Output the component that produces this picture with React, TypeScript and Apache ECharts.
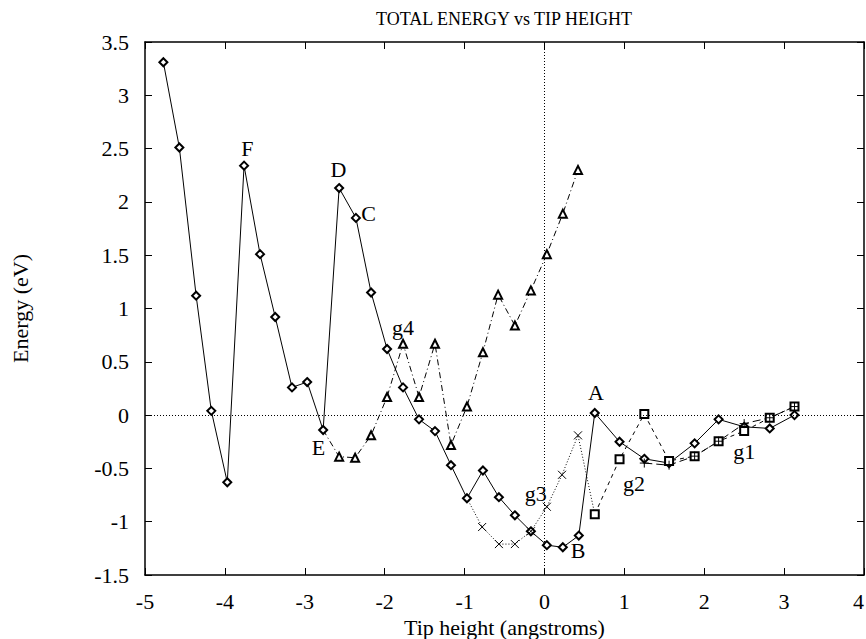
import React, { useEffect, useRef } from "react";
import * as echarts from "echarts";

const titleText = "TOTAL ENERGY vs TIP HEIGHT";
const xName = "Tip height (angstroms)";
const yName = "Energy (eV)";

// g0 : diamonds, solid
const xG0 = [-4.77, -4.57, -4.36, -4.17, -3.97, -3.76, -3.56, -3.37, -3.16, -2.97, -2.77, -2.57, -2.36, -2.17, -1.97, -1.77, -1.57, -1.37, -1.17, -0.97, -0.77, -0.57, -0.37, -0.17, 0.03, 0.23, 0.43, 0.63, 0.94, 1.25, 1.56, 1.88, 2.18, 2.5, 2.82, 3.13];
const yG0 = [3.31, 2.51, 1.12, 0.04, -0.63, 2.34, 1.51, 0.92, 0.26, 0.31, -0.14, 2.13, 1.85, 1.15, 0.62, 0.26, -0.04, -0.15, -0.47, -0.78, -0.52, -0.77, -0.94, -1.09, -1.22, -1.24, -1.13, 0.02, -0.25, -0.41, -0.45, -0.265, -0.04, -0.11, -0.125, 0.0];

// g4 : triangles, dash-dot
const xG4 = [-2.77, -2.57, -2.37, -2.17, -1.97, -1.77, -1.57, -1.37, -1.17, -0.97, -0.77, -0.58, -0.37, -0.17, 0.03, 0.23, 0.42];
const yG4 = [-0.14, -0.39, -0.4, -0.19, 0.17, 0.67, 0.17, 0.67, -0.28, 0.08, 0.59, 1.13, 0.84, 1.17, 1.51, 1.89, 2.3];

// g3 : crosses, dotted
const xG3 = [-0.97, -0.78, -0.57, -0.37, -0.17, 0.03, 0.22, 0.42, 0.63];
const yG3 = [-0.78, -1.05, -1.21, -1.21, -1.09, -0.86, -0.56, -0.19, -0.93];

// g2 : squares, dashed
const xG2 = [0.63, 0.94, 1.25, 1.56, 1.88, 2.18, 2.5, 2.82, 3.13];
const yG2 = [-0.93, -0.415, 0.01, -0.43, -0.385, -0.245, -0.15, -0.025, 0.08];

// g1 : plus, long dashed
const xG1 = [1.25, 1.56, 1.88, 2.18, 2.5, 2.82, 3.13];
const yG1 = [-0.45, -0.47, -0.385, -0.245, -0.08, -0.025, 0.08];

// annotation labels
const noteText = ["F", "D", "C", "E", "g4", "A", "B", "g3", "g2", "g1"];
const noteX = [-3.72, -2.58, -2.2, -2.83, -1.77, 0.645, 0.42, -0.11, 1.12, 2.5];
const noteY = [2.5, 2.3, 1.89, -0.3, 0.82, 0.21, -1.27, -0.74, -0.64, -0.34];

const xTicks = { min: -5, max: 4, interval: 1 };
const yTicks = { min: -1.5, max: 3.5, interval: 0.5 };

const FONT = "'Liberation Serif', 'Times New Roman', serif";
const CROSS = "path://M0,0L10,10M10,0L0,10";
const PLUS = "path://M5,0L5,10M0,5L10,5";

function pairs(xs: number[], ys: number[]) {
  return xs.map((x, i) => [x, ys[i]]);
}

export default function App() {
  const ref = useRef<HTMLDivElement>(null);
  useEffect(() => {
    document.body.style.margin = "0";
    document.body.style.overflow = "hidden";
    document.documentElement.style.overflow = "hidden";
    if (!ref.current) return;
    const chart = echarts.init(ref.current, undefined, { renderer: "svg" });
    const axisLine = { show: true, onZero: false, lineStyle: { color: "#000", width: 1.5 } };
    const tick = { show: true, inside: true, length: 7, lineStyle: { color: "#000", width: 1 } };
    const lineSeries = (
      name: string,
      data: number[][],
      symbol: string,
      size: number,
      dash: any,
      hideFirst = false
    ) => ({
      name,
      type: "line",
      data: data.map((d, i) =>
        hideFirst && i === 0 ? { value: d, symbol: "none" } : { value: d }
      ),
      symbol,
      symbolSize: size,
      showAllSymbol: true,
      lineStyle: { color: "#000", width: 1, type: dash },
      itemStyle: { color: "#000", borderColor: "#000", borderWidth: 1 },
      z: 3,
    });
    chart.setOption({
      animation: false,
      backgroundColor: "#fff",
      title: {
        text: titleText,
        left: 499,
        top: 5,
        textAlign: "center",
        textStyle: { fontFamily: FONT, fontSize: 18, fontWeight: "normal", color: "#000" },
      },
      grid: {
        left: 145,
        right: 2,
        top: 42,
        bottom: 64,
        containLabel: false,
        outerBoundsMode: "none",
      },
      xAxis: [
        {
          type: "value",
          ...xTicks,
          position: "bottom",
          name: xName,
          nameLocation: "middle",
          nameGap: 32,
          nameTextStyle: { fontFamily: FONT, fontSize: 22, color: "#000" },
          axisLine,
          axisTick: tick,
          splitLine: { show: false },
          axisLabel: {
            fontFamily: FONT,
            fontSize: 22,
            color: "#000",
            margin: 15,
            alignMaxLabel: "right",
          },
        },
        {
          type: "value",
          ...xTicks,
          position: "top",
          axisLine,
          axisTick: tick,
          splitLine: { show: false },
          axisLabel: { show: false },
        },
      ],
      yAxis: [
        {
          type: "value",
          ...yTicks,
          position: "left",
          name: yName,
          nameLocation: "middle",
          nameGap: 114,
          nameRotate: 90,
          nameTextStyle: { fontFamily: FONT, fontSize: 22, color: "#000" },
          axisLine,
          axisTick: tick,
          splitLine: { show: false },
          axisLabel: { fontFamily: FONT, fontSize: 22, color: "#000", margin: 16 },
        },
        {
          type: "value",
          ...yTicks,
          position: "right",
          axisLine,
          axisTick: tick,
          splitLine: { show: false },
          axisLabel: { show: false },
        },
      ],
      series: [
        {
          type: "line",
          data: [],
          silent: true,
          markLine: {
            silent: true,
            symbol: "none",
            label: { show: false },
            lineStyle: { color: "#000", width: 1, type: [1, 2] },
            data: [{ xAxis: 0 }, { yAxis: 0 }],
          },
          z: 1,
        },
        lineSeries("g0", pairs(xG0, yG0), "emptyDiamond", 8, "solid"),
        lineSeries("g4", pairs(xG4, yG4), "emptyTriangle", 8, [6, 3, 1, 3], true),
        lineSeries("g3", pairs(xG3, yG3), CROSS, 8, [1, 2], true),
        lineSeries("g2", pairs(xG2, yG2), "emptyRect", 8, [4, 4]),
        lineSeries("g1", pairs(xG1, yG1), PLUS, 9, [8, 4]),
        {
          type: "scatter",
          silent: true,
          symbolSize: 0,
          itemStyle: { color: "#000", opacity: 1 },
          data: noteText.map((t, i) => ({ value: [noteX[i], noteY[i]], name: t })),
          label: {
            show: true,
            position: "inside",
            formatter: (p: any) => p.name,
            fontFamily: FONT,
            fontSize: 22,
            color: "#000",
            opacity: 1,
            textBorderWidth: 0,
          },
          z: 5,
        },
      ],
    });
    return () => chart.dispose();
  }, []);
  return (
    <div
      ref={ref}
      style={{ position: "fixed", left: 0, top: 0, width: 866, height: 639 }}
    />
  );
}
